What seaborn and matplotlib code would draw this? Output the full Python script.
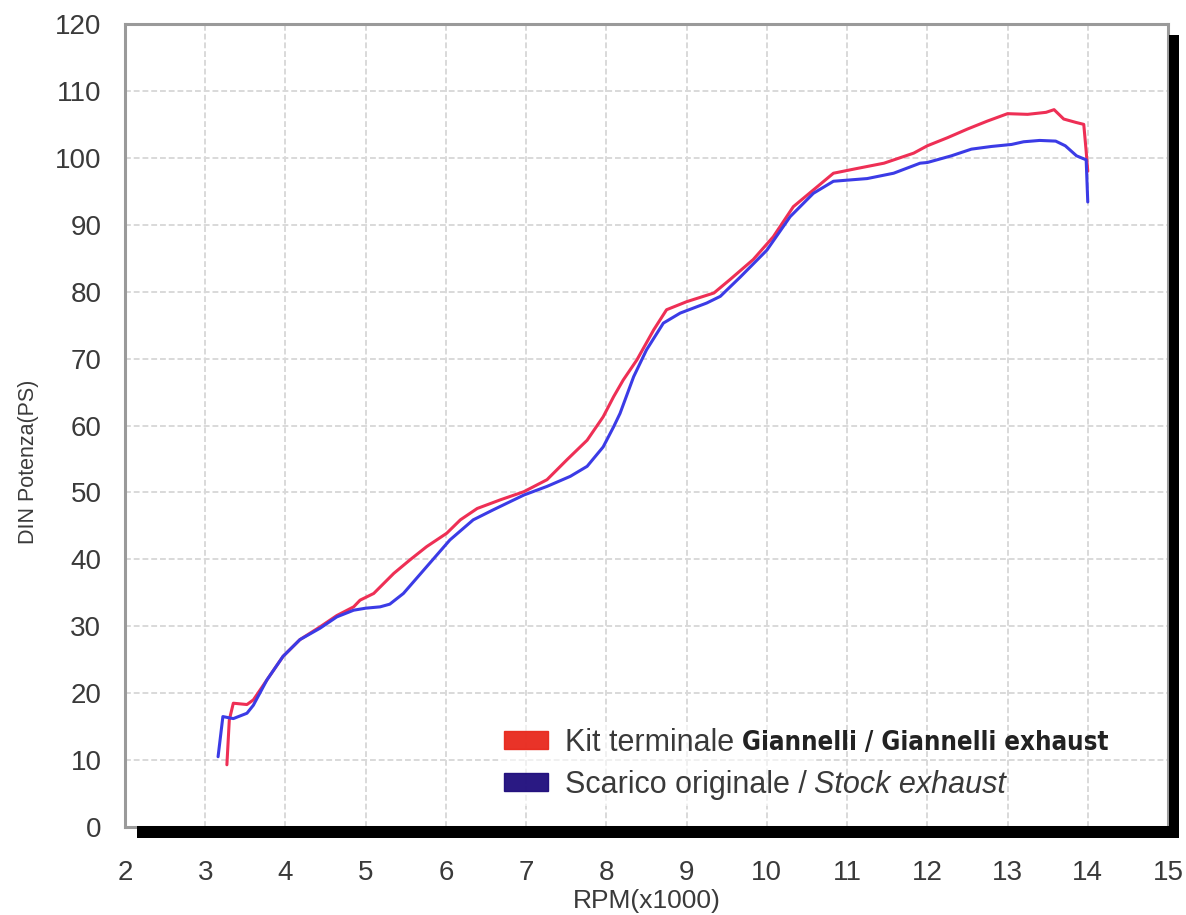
import os
import matplotlib
matplotlib.use('Agg')
import matplotlib.pyplot as plt
from matplotlib import font_manager
from matplotlib.patches import Patch, Rectangle
from matplotlib.ticker import MultipleLocator
import pandas as pd
import seaborn as sns

# Giannelli exhaust curve (rpm x1000, DIN PS)
giannelli_rpm = [3.27, 3.30, 3.35, 3.52, 3.60, 3.64, 3.77, 3.97, 4.18, 4.43, 4.64, 4.85, 4.93,
                 5.10, 5.35, 5.55, 5.76, 6.01, 6.18, 6.39, 6.68, 6.97, 7.26, 7.51, 7.76, 7.96,
                 8.09, 8.21, 8.38, 8.59, 8.75, 9.00, 9.34, 9.54, 9.83, 10.08, 10.33, 10.58,
                 10.83, 11.12, 11.46, 11.83, 12.00, 12.25, 12.50, 12.75, 13.00, 13.25, 13.48,
                 13.58, 13.70, 13.85, 13.95, 13.98, 14.00]
giannelli_ps = [9.3, 16.0, 18.5, 18.3, 19.0, 19.7, 22.0, 25.5, 28.0, 29.9, 31.6, 32.9, 33.9,
                34.9, 37.9, 39.9, 41.9, 43.9, 45.9, 47.6, 48.9, 50.1, 51.9, 54.9, 57.8, 61.3,
                64.3, 66.8, 69.8, 74.3, 77.3, 78.5, 79.8, 81.8, 84.8, 88.2, 92.7, 95.2,
                97.7, 98.4, 99.2, 100.7, 101.8, 103.0, 104.3, 105.5, 106.6, 106.5, 106.8,
                107.2, 105.8, 105.3, 105.0, 101.0, 98.0]

# Stock exhaust curve
stock_rpm = [3.16, 3.22, 3.35, 3.52, 3.60, 3.77, 3.97, 4.18, 4.43, 4.64, 4.85, 5.00, 5.18,
             5.30, 5.47, 5.76, 6.05, 6.34, 6.59, 6.97, 7.26, 7.55, 7.76, 7.96, 8.09, 8.17,
             8.34, 8.50, 8.71, 8.92, 9.25, 9.42, 9.67, 10.00, 10.29, 10.58, 10.83, 11.25,
             11.58, 11.91, 12.00, 12.30, 12.55, 12.80, 13.05, 13.20, 13.40, 13.60, 13.72,
             13.86, 13.98, 14.00]
stock_ps = [10.5, 16.5, 16.2, 17.0, 18.2, 22.0, 25.5, 28.0, 29.7, 31.4, 32.4, 32.7, 32.9,
            33.3, 34.9, 38.9, 42.9, 45.9, 47.4, 49.6, 50.9, 52.4, 53.9, 56.8, 59.8, 61.8,
            67.3, 71.3, 75.3, 76.8, 78.3, 79.3, 82.2, 86.2, 91.2, 94.7, 96.5, 96.9,
            97.7, 99.2, 99.3, 100.3, 101.3, 101.7, 102.0, 102.4, 102.6, 102.5, 101.8,
            100.3, 99.7, 93.4]

series_names = ["Giannelli", "Stock"]
line_colors = ["#ee2f55", "#3b3be6"]
legend_colors = ["#e8281c", "#1e0c7c"]
legend_plain = ["Kit terminale", "Scarico originale /"]
legend_extra = ["Giannelli / Giannelli exhaust", "Stock exhaust"]

x_ticks = list(range(2, 16))
y_ticks = list(range(0, 121, 10))

sns.set_style("white")
plt.rcParams['font.family'] = ['Liberation Sans', 'DejaVu Sans']

LEG_SIZE = 22


def narrow_bold_font():
    """Pick a condensed bold face, sized so the bold text keeps roughly the reference width"""
    files = {os.path.basename(f.fname).lower(): f.fname for f in font_manager.fontManager.ttflist}
    if "liberationsansnarrow-bold.ttf" in files:
        return font_manager.FontProperties(fname=files["liberationsansnarrow-bold.ttf"], size=LEG_SIZE)
    if "dejavusanscondensed-bold.ttf" in files:
        return font_manager.FontProperties(fname=files["dejavusanscondensed-bold.ttf"], size=18.5)
    return font_manager.FontProperties(family='Liberation Sans', weight='bold', size=18.5)


df = pd.concat([
    pd.DataFrame({"rpm": giannelli_rpm, "ps": giannelli_ps, "series": series_names[0]}),
    pd.DataFrame({"rpm": stock_rpm, "ps": stock_ps, "series": series_names[1]}),
], ignore_index=True)

fig = plt.figure(figsize=(11.86, 9.15), dpi=100)
ax = fig.add_axes([125 / 1186, 1 - 827 / 915, (1168 - 125) / 1186, (827 - 24) / 915])

sns.lineplot(data=df, x="rpm", y="ps", hue="series", palette=dict(zip(series_names, line_colors)),
             estimator=None, sort=False, linewidth=2.2, legend=False, ax=ax)

ax.set_xlim(2, 15)
ax.set_ylim(0, 120)
ax.set_xticks(x_ticks)
ax.set_yticks(y_ticks)
ax.xaxis.set_minor_locator(MultipleLocator(0.2))
ax.yaxis.set_minor_locator(MultipleLocator(2))
ax.grid(which='major', color='#d9d9d9', linestyle=(0, (3, 1.5)), linewidth=1.4)
ax.set_axisbelow(True)

ax.tick_params(axis='x', which='major', direction='out', length=16, width=1.4,
               color='#dddddd', pad=8, labelsize=20, labelcolor='#3a3a3a')
ax.tick_params(axis='y', which='major', direction='out', length=9, width=1.4,
               color='#dddddd', pad=8, labelsize=20, labelcolor='#3a3a3a')
ax.tick_params(axis='x', which='minor', direction='in', length=7, width=1.4, color='#c8c8c8')
ax.tick_params(axis='y', which='minor', direction='in', length=4, width=1.2, color='#c8c8c8')

for side in ['left', 'top', 'right', 'bottom']:
    ax.spines[side].set_color('#9a9a9a')
    ax.spines[side].set_linewidth(2.2)

# black shadow bars along bottom and right edges
ax.add_patch(Rectangle((0.0115, -0.0137), 0.999, 0.0147, transform=ax.transAxes,
                       facecolor='black', edgecolor='none', clip_on=False, zorder=5))
ax.add_patch(Rectangle((1.001, -0.0137), 0.0095, 1.0, transform=ax.transAxes,
                       facecolor='black', edgecolor='none', clip_on=False, zorder=5))

ax.set_xlabel("RPM(x1000)", fontsize=19, color='#3a3a3a', labelpad=2)
ax.set_ylabel("DIN Potenza(PS)", fontsize=15.5, color='#3a3a3a')
ax.yaxis.set_label_coords(-0.082, 0.455)

handles = [Patch(facecolor=c, edgecolor=c, alpha=0.95) for c in legend_colors]
leg = ax.legend(handles, legend_plain, loc='upper left', bbox_to_anchor=(498 / 1186, 1 - 722 / 915),
                bbox_transform=fig.transFigure, fontsize=LEG_SIZE, frameon=True, framealpha=0.6,
                facecolor='white', edgecolor='none', borderpad=0.2, borderaxespad=0,
                handlelength=1.44, handleheight=0.52, handletextpad=0.55, labelspacing=0.39)
leg.set_zorder(6)
leg_texts = leg.get_texts()
for t in leg_texts:
    t.set_color('#3a3a3a')

# second part of each legend entry in its own style
bold_fp = narrow_bold_font()
ax.annotate(legend_extra[0], xy=(1, 0), xycoords=leg_texts[0], xytext=(6, 1.5),
            textcoords='offset points', ha='left', va='bottom', fontproperties=bold_fp,
            color='#222222', zorder=7)
ax.annotate(legend_extra[1], xy=(1, 0), xycoords=leg_texts[1], xytext=(5, 0),
            textcoords='offset points', ha='left', va='bottom', fontsize=LEG_SIZE,
            style='italic', color='#3a3a3a', zorder=7)

fig.savefig("out.png", dpi=100)
